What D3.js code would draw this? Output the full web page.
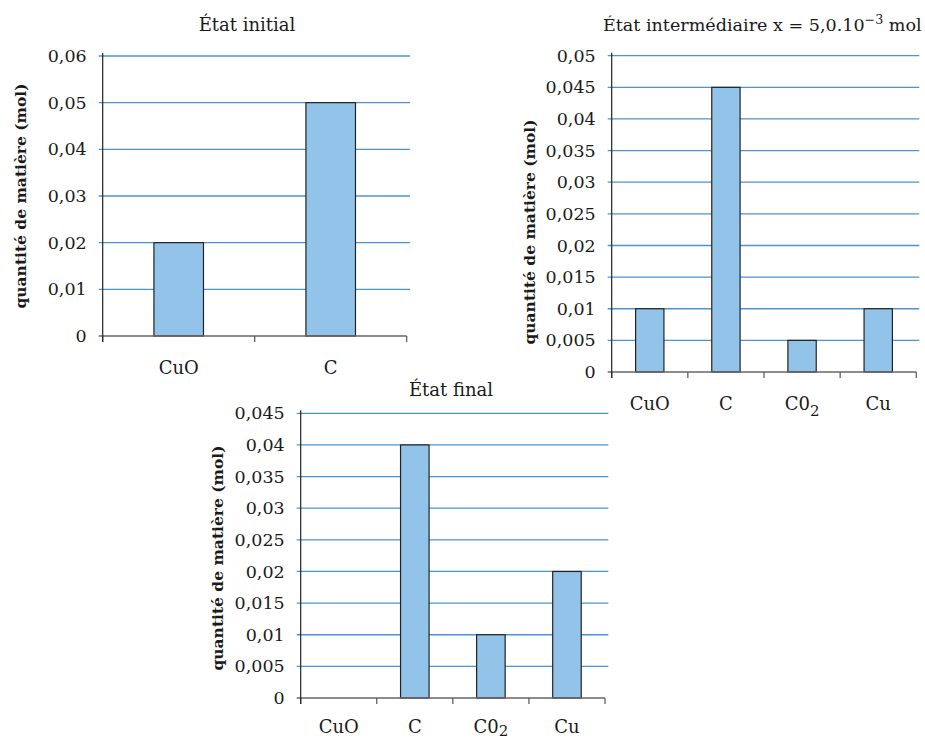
<!DOCTYPE html>
<html>
<head>
<meta charset="utf-8">
<script src="https://cdn.jsdelivr.net/npm/d3@7"></script>
<style>
  html, body { margin: 0; padding: 0; background: #fff; }
  svg { display: block; }
  text { font-family: "DejaVu Serif", serif; fill: #1a1a1a; }
</style>
</head>
<body>
<svg id="chart" width="925" height="741"></svg>
<script>
// ---- data ----
const categoriesInitial = ["CuO", "C"];
const valuesInitial = [0.02, 0.05];
const ticksInitial = [0, 0.01, 0.02, 0.03, 0.04, 0.05, 0.06];

const categoriesInter = ["CuO", "C", "C0₂", "Cu"];
const valuesInter = [0.01, 0.045, 0.005, 0.01];
const ticksInter = [0, 0.005, 0.01, 0.015, 0.02, 0.025, 0.03, 0.035, 0.04, 0.045, 0.05];

const categoriesFinal = ["CuO", "C", "C0₂", "Cu"];
const valuesFinal = [0, 0.04, 0.01, 0.02];
const ticksFinal = [0, 0.005, 0.01, 0.015, 0.02, 0.025, 0.03, 0.035, 0.04, 0.045];

const yAxisTitle = "quantité de matière (mol)";
const titleInitial = "État initial";
const titleInterMain = "État intermédiaire x = 5,0.10";
const titleInterExp = "−3";
const titleInterUnit = " mol";
const titleFinal = "État final";

// ---- helpers ----
const locale = d3.formatLocale({decimal: ",", thousands: " ", grouping: [3], currency: ["", ""]});
const fmt = v => v === 0 ? "0" : locale.format(",")(+v.toFixed(3));

const svg = d3.select("#chart");

function drawChart(cfg) {
  const g = svg.append("g");
  const n = cfg.categories.length;
  const y = d3.scaleLinear().domain([0, d3.max(cfg.ticks)]).range([cfg.yBottom, cfg.yTop]);
  const pad = 1 - cfg.barRatio;
  const x = d3.scaleBand().domain(cfg.categories).range([cfg.x0, cfg.x1])
    .paddingInner(pad).paddingOuter(pad / 2);
  const xb = d3.scaleLinear().domain([0, n]).range([cfg.x0, cfg.x1]);

  // gridlines
  g.append("g").selectAll("line").data(cfg.ticks.filter(t => t > 0)).join("line")
    .attr("x1", cfg.x0 - 4).attr("x2", cfg.gridEnd)
    .attr("y1", d => y(d)).attr("y2", d => y(d))
    .attr("stroke", "#4a94d4").attr("stroke-width", 1.3);

  // y tick labels
  const ya = d3.axisLeft(y).tickValues(cfg.ticks).tickFormat(fmt).tickSize(0).tickPadding(16);
  const yg = g.append("g").attr("transform", `translate(${cfg.x0},0)`).call(ya);
  yg.select(".domain").remove();
  yg.selectAll("text").style("font-family", "DejaVu Serif").style("font-size", "17.5px").attr("fill", "#1a1a1a");

  // bars
  g.append("g").selectAll("rect").data(cfg.values.map((v, i) => ({c: cfg.categories[i], v})).filter(d => d.v > 0))
    .join("rect")
    .attr("x", d => x(d.c)).attr("width", x.bandwidth())
    .attr("y", d => y(d.v)).attr("height", d => y(0) - y(d.v))
    .attr("fill", "#92c4ea").attr("stroke", "#222").attr("stroke-width", 1.2);

  // x axis
  g.append("line").attr("x1", cfg.x0 - 4).attr("x2", cfg.x1)
    .attr("y1", y(0)).attr("y2", y(0)).attr("stroke", "#666").attr("stroke-width", 1.6);
  g.append("g").selectAll("line").data(d3.range(n + 1)).join("line")
    .attr("x1", d => xb(d)).attr("x2", d => xb(d))
    .attr("y1", y(0)).attr("y2", y(0) + 6)
    .attr("stroke", "#555").attr("stroke-width", 1.2);
  // y axis
  g.append("line").attr("x1", cfg.x0).attr("x2", cfg.x0)
    .attr("y1", cfg.yTop - 3).attr("y2", y(0) + 6)
    .attr("stroke", "#222").attr("stroke-width", 1.2);

  // category labels
  const cl = g.append("g").selectAll("text").data(cfg.categories).join("text")
    .attr("x", d => x(d) + x.bandwidth() / 2).attr("y", cfg.labelY)
    .attr("text-anchor", "middle").style("font-size", "18px");
  cl.each(function(d) {
    const t = d3.select(this);
    if (d.includes("₂")) {
      t.append("tspan").text(d.replace("₂", ""));
      t.append("tspan").text("2").attr("dy", cfg.subDy).style("font-size", "15px");
    } else t.text(d);
  });

  // title
  const tt = g.append("text").attr("x", cfg.titleX).attr("y", cfg.titleY)
    .attr("text-anchor", cfg.titleAnchor || "middle").style("font-size", "18px");
  cfg.title(tt);
  if (cfg.titleWidth) {
    const w = tt.node().getComputedTextLength();
    if (w > cfg.titleWidth) {
      const s = 18 * cfg.titleWidth / w;
      tt.style("font-size", s + "px");
      tt.selectAll("tspan.sup").style("font-size", (s * 0.72) + "px");
    }
  }

  // y axis title
  g.append("text")
    .attr("transform", `translate(${cfg.yLabelX},${cfg.yLabelY}) rotate(-90)`)
    .attr("text-anchor", "middle").attr("dy", "0.35em")
    .style("font-size", "15.5px").style("font-weight", "bold")
    .text(yAxisTitle);
}

drawChart({
  categories: categoriesInitial, values: valuesInitial, ticks: ticksInitial,
  x0: 102.7, x1: 406.7, gridEnd: 410, yTop: 56, yBottom: 336, barRatio: 0.326,
  labelY: 374, subDy: 6, titleX: 247, titleY: 31, yLabelX: 21, yLabelY: 196,
  title: t => t.text(titleInitial)
});

drawChart({
  categories: categoriesInter, values: valuesInter, ticks: ticksInter,
  x0: 611.7, x1: 916.3, gridEnd: 919.3, yTop: 55.7, yBottom: 372, barRatio: 0.372,
  labelY: 409.5, subDy: 6, titleX: 603, titleAnchor: "start", titleWidth: 319, titleY: 31,
  yLabelX: 530, yLabelY: 232,
  title: t => {
    t.append("tspan").text(titleInterMain);
    t.append("tspan").attr("class", "sup").text(titleInterExp).attr("dy", -7).style("font-size", "13px");
    t.append("tspan").text(titleInterUnit).attr("dy", 7);
  }
});

drawChart({
  categories: categoriesFinal, values: valuesFinal, ticks: ticksFinal,
  x0: 300.7, x1: 605, gridEnd: 608.3, yTop: 413.3, yBottom: 698, barRatio: 0.375,
  labelY: 733, subDy: 3, titleX: 451, titleY: 396, yLabelX: 218, yLabelY: 558,
  title: t => t.text(titleFinal)
});
</script>
</body>
</html>
